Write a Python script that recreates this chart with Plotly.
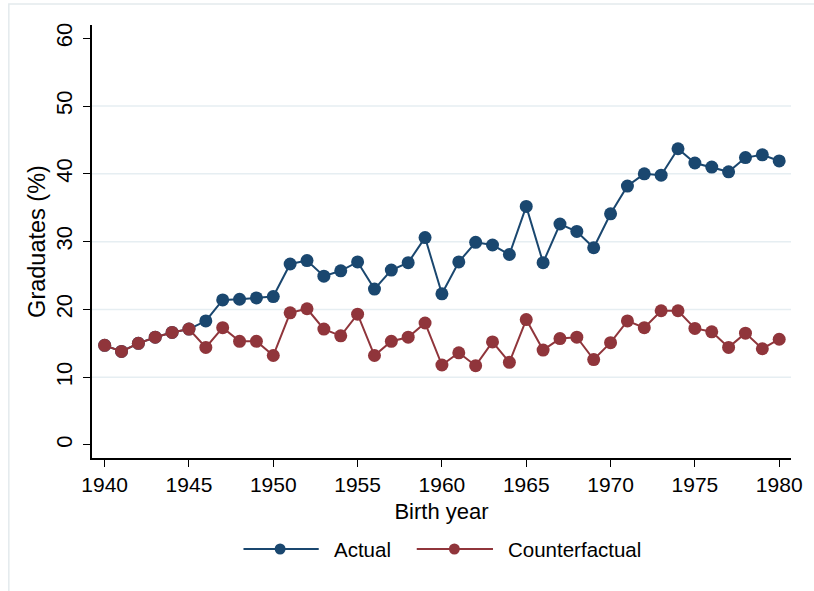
import plotly.graph_objects as go

years = list(range(1940, 1981))
actual = [14.7, 13.8, 15.0, 15.9, 16.6, 17.1, 18.3, 21.4, 21.5, 21.7,
          21.9, 26.7, 27.2, 24.9, 25.7, 27.0, 23.0, 25.8, 26.9, 30.6,
          22.3, 27.0, 29.9, 29.5, 28.1, 35.2, 26.9, 32.6, 31.5, 29.1,
          34.1, 38.2, 40.0, 39.8, 43.7, 41.6, 41.0, 40.3, 42.4, 42.8,
          41.9]
counterfactual = [14.7, 13.8, 15.0, 15.9, 16.6, 17.1, 14.4, 17.3, 15.3, 15.3,
                  13.2, 19.5, 20.1, 17.1, 16.1, 19.3, 13.2, 15.3, 15.9, 18.0,
                  11.8, 13.6, 11.7, 15.2, 12.2, 18.5, 14.0, 15.7, 15.9, 12.6,
                  15.1, 18.3, 17.3, 19.8, 19.8, 17.2, 16.7, 14.4, 16.5, 14.2,
                  15.6]
x_ticks = [1940, 1945, 1950, 1955, 1960, 1965, 1970, 1975, 1980]
y_ticks = [0, 10, 20, 30, 40, 50, 60]
grid_vals = [10, 20, 30, 40, 50]
series_names = ["Actual", "Counterfactual"]
colors = ["#1a476f", "#90353b"]

FONT = "Liberation Sans, Arial, sans-serif"
W, H = 814, 591
L, R, T, B = 92, 16, 25, 133
pw, ph = W - L - R, H - T - B

def px2x(px):
    return (px - L) / pw

def py2y(py):
    return (H - B - py) / ph

fig = go.Figure()
for name, vals, col in zip(series_names, [actual, counterfactual], colors):
    fig.add_trace(go.Scatter(
        x=years, y=vals, mode="lines+markers", name=name,
        line=dict(color=col, width=2),
        marker=dict(color=col, size=13, line=dict(width=0)),
        showlegend=False, cliponaxis=False, hoverinfo="skip"))

shapes = []
# outer frame
shapes.append(dict(type="rect", xref="paper", yref="paper",
                   x0=px2x(8), x1=px2x(830), y0=py2y(600), y1=py2y(4),
                   line=dict(color="#e3eaed", width=1.5), layer="below"))
# grid lines
for g in grid_vals:
    shapes.append(dict(type="line", xref="paper", yref="y", x0=0, x1=1,
                       y0=g, y1=g, line=dict(color="#e6eef2", width=1.5),
                       layer="below"))
# custom legend
legend_items = [(245, 321, 282, 334), (420, 497, 458, 510)]
annotations = []
ly = 549
for (x0, x1, xm, xt), name, col in zip(legend_items, series_names, colors):
    shapes.append(dict(type="line", xref="paper", yref="paper",
                       x0=px2x(x0), x1=px2x(x1), y0=py2y(ly), y1=py2y(ly),
                       line=dict(color=col, width=2)))
    r = 5.5
    shapes.append(dict(type="circle", xref="paper", yref="paper",
                       x0=px2x(xm - r), x1=px2x(xm + r),
                       y0=py2y(ly + r), y1=py2y(ly - r),
                       fillcolor=col, line=dict(color=col, width=0)))
    annotations.append(dict(text=name, xref="paper", yref="paper",
                            x=px2x(xt), y=py2y(ly), xanchor="left",
                            yanchor="middle", showarrow=False,
                            font=dict(family=FONT, size=20.5, color="#000000")))

fig.update_layout(
    width=W, height=H,
    margin=dict(l=L, r=R, t=T, b=B, pad=0),
    paper_bgcolor="white", plot_bgcolor="white",
    font=dict(family=FONT, size=20, color="#000000"),
    shapes=shapes, annotations=annotations,
    showlegend=False,
    xaxis=dict(range=[1939.25, 1980.7], tickvals=x_ticks,
               ticktext=[str(v) for v in x_ticks],
               showgrid=False, zeroline=False,
               showline=True, linecolor="#000000", linewidth=1.5,
               ticks="outside", ticklen=7, tickwidth=1.2, tickcolor="#000000",
               tickfont=dict(family=FONT, size=21), ticklabelstandoff=0,
               title=dict(text="Birth year", standoff=9,
                          font=dict(family=FONT, size=22))),
    yaxis=dict(range=[-1.92, 61.96], tickvals=y_ticks,
               ticktext=[str(v) for v in y_ticks],
               showgrid=False, zeroline=False,
               showline=True, linecolor="#000000", linewidth=1.5,
               ticks="outside", ticklen=7, tickwidth=1.2, tickcolor="#000000",
               tickangle=-90, tickfont=dict(family=FONT, size=22),
               ticklabelstandoff=2,
               title=dict(text="Graduates (%)", standoff=0,
                          font=dict(family=FONT, size=23.5))),
)

fig.write_html("out.html",
               config={"displayModeBar": False},
               post_script="document.body.style.margin='0';"
                           "document.body.style.overflow='hidden';")
